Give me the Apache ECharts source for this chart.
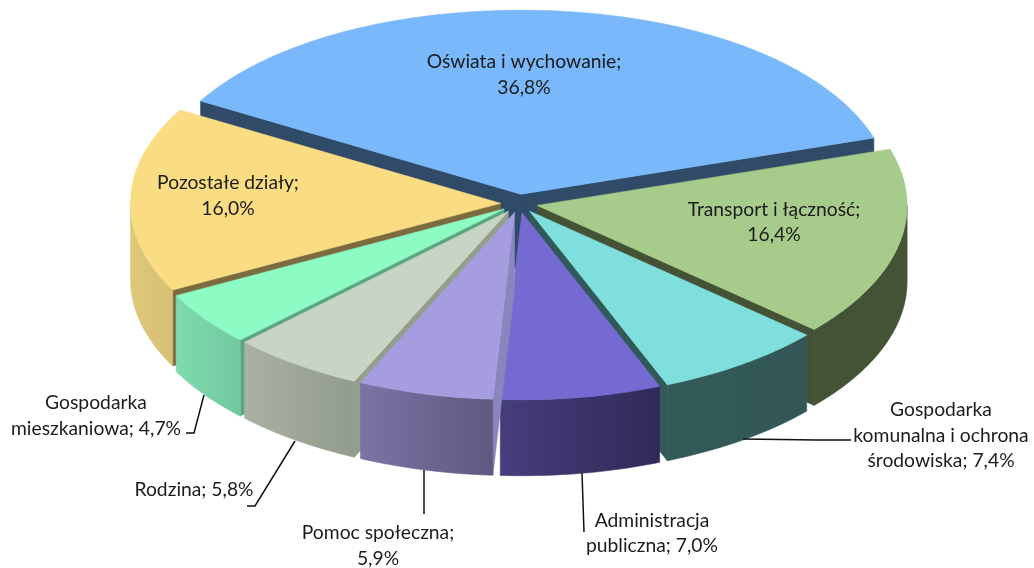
<!DOCTYPE html>
<html><head><meta charset="utf-8">
<style>html,body{margin:0;padding:0;background:#fff}#c{width:1034px;height:568px}</style>
<script src="https://cdn.jsdelivr.net/npm/echarts@6/dist/echarts.min.js"></script>
</head><body><div id="c"></div>
<script>
// ---- data ----
const categories = ['Oświata i wychowanie','Transport i łączność','Gospodarka\nkomunalna i ochrona\nśrodowiska','Administracja\npubliczna','Pomoc społeczna','Rodzina','Gospodarka\nmieszkaniowa','Pozostałe działy'];
const shares = [36.8,16.4,7.4,7.0,5.9,5.8,4.7,16.0];
const valueOnNewLine = [true,true,false,false,true,false,false,true];
// ---- style ----
const topColors = ['#78B8FB','#A6CB8A','#7FDFDD','#746AD2','#A59DE0','#C9D4C4','#8CFCC4','#FADC82'];
const edgeColors = ['#304B68','#445236','#32595A','#3A3368','#8B85BE','#939E8C','#5AA582','#7D6B40'];
const wallColors = [['#304B68','#304B68'],['#445236','#445236'],['#335A58','#325756'],['#463E7C','#302A58'],['#7A73A5','#5E5A80'],['#A8B1A2','#929C8C'],['#7FDBAE','#72C9A0'],['#E0C87A','#D6BE74']];
// ---- layout ----
const cx = 519, cy = 203.5, rx = 370, ry = 187, depth = 76, explode = 0.05, startDeg = -60, backSquash = 0.016;
const paintOrder = [0,7,1,6,2,5,3,4];
const labelFont = 19.3, labelLine = 25.5, labelColor = '#1c1c1c', labelFamily = 'Lato';
const labelAnchors = [[524,75],[774,222.5],[941,435.5],[652,533.5],[378,546],[194,490],[96,416],[228,196]];
const leaders = [null,null,[[743,439],[817,440],[851,440]],[[582,473],[584,532]],[[424,470],[424,514]],[[295,441],[255,506],[247,506]],[[204,395],[194,433],[186,433]],null];

const rad = d => d * Math.PI / 180;
const slices = [];
(function(){
  let a = startDeg;
  const total = shares.reduce((s,v)=>s+v,0);
  shares.forEach(v => { const b = a + v/total*360; slices.push({from:a,to:b}); a = b; });
})();
function project(s, deg){
  const c = Math.cos(rad(deg));
  const squash = 1 - backSquash*Math.pow(Math.max(0,c),3);
  return [s.ax + rx*Math.sin(rad(deg)), s.ay - ry*c*squash];
}
slices.forEach(s => {
  const m = (s.from+s.to)/2;
  s.ax = cx + explode*rx*Math.sin(rad(m));
  s.ay = cy - explode*ry*Math.cos(rad(m));
});
function arc(s, a, b){
  const pts = [], n = Math.max(2, Math.ceil(Math.abs(b-a)));
  for (let i=0;i<=n;i++) pts.push(project(s, a+(b-a)*i/n));
  return pts;
}
const down = p => [p[0], p[1]+depth];
function poly(points, fill, z2){
  return {type:'polygon', shape:{points}, style:{fill, stroke:fill, lineWidth:0.6}, z2, silent:true};
}
function renderSlice(params){
  const i = params.dataIndex, s = slices[i], z = paintOrder.indexOf(i)*10;
  const apex = [s.ax, s.ay], kids = [];
  const visibleStart = -Math.sin(rad(s.from)) > 0;
  const visibleEnd = Math.sin(rad(s.to)) > 0;
  if (visibleStart){
    const c = project(s,s.from);
    kids.push(poly([apex,c,down(c),down(apex)], edgeColors[i], z));
  }
  if (visibleEnd){
    const c = project(s,s.to);
    kids.push(poly([apex,c,down(c),down(apex)], edgeColors[i], z));
  }
  const wa = Math.max(s.from,90), wb = Math.min(s.to,270);
  if (wb > wa){
    const a = arc(s,wa,wb);
    const pts = a.concat(a.slice().reverse().map(down));
    const g = new echarts.graphic.LinearGradient(1,0,0,0,[{offset:0,color:wallColors[i][1]},{offset:1,color:wallColors[i][0]}]);
    kids.push(poly(pts, g, z+1));
  }
  kids.push(poly([apex].concat(arc(s,s.from,s.to)), topColors[i], z+2));
  return {type:'group', children:kids};
}
function renderLabel(params){
  const i = params.dataIndex, kids = [];
  const value = shares[i].toFixed(1).replace('.',',') + '%';
  const text = categories[i] + ';' + (valueOnNewLine[i] ? '\n' : ' ') + value;
  if (leaders[i]) kids.push({type:'polyline', shape:{points:leaders[i]}, style:{stroke:'#111',lineWidth:1.5,fill:null}, z2:200, silent:true});
  kids.push({type:'text', x:labelAnchors[i][0], y:labelAnchors[i][1], z2:210, silent:true,
    style:{text, fill:labelColor, align:'center', verticalAlign:'middle', textAlign:'center', textVerticalAlign:'middle',
      font:labelFont+'px '+labelFamily, lineHeight:labelLine}});
  return {type:'group', children:kids};
}
const chart = echarts.init(document.getElementById('c'), null, {renderer:'canvas'});
const rows = categories.map((c,i)=>({name:c, value:shares[i]}));
chart.setOption({
  animation:false, backgroundColor:'#fff',
  series:[
    {type:'custom', coordinateSystem:'none', renderItem:renderSlice, data:rows, z:1, silent:true},
    {type:'custom', coordinateSystem:'none', renderItem:renderLabel, data:rows, z:2, silent:true}
  ]
});
</script></body></html>
